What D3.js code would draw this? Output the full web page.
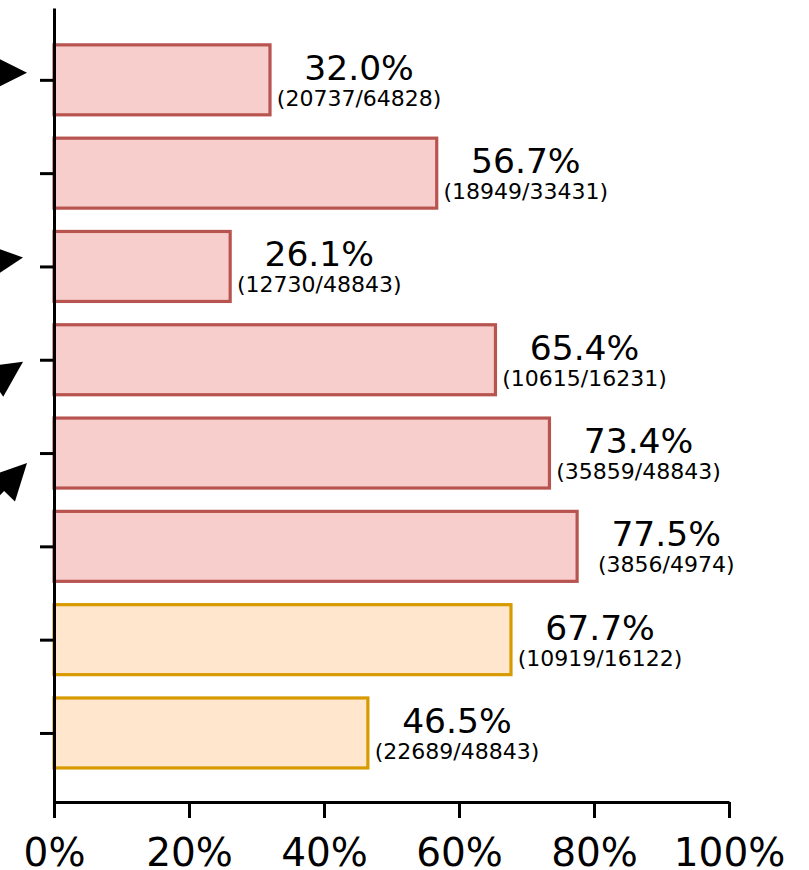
<!DOCTYPE html>
<html>
<head>
<meta charset="utf-8">
<script src="https://cdn.jsdelivr.net/npm/d3@7"></script>
<style>
  body { margin: 0; background: #fff; }
  text { font-family: "DejaVu Sans", sans-serif; }
</style>
</head>
<body>
<script>
var width = 809;
var height = 870;

// values, top bar first
var rates  = [32.0, 56.7, 26.1, 65.4, 73.4, 77.5, 67.7, 46.5];
var hits   = [20737, 18949, 12730, 10615, 35859, 3856, 10919, 22689];
var totals = [64828, 33431, 48843, 16231, 48843, 4974, 16122, 48843];
var groups = ["a", "a", "a", "a", "a", "a", "b", "b"];
var xTicks = [0, 20, 40, 60, 80, 100];

// arrow heads sticking in from the left edge (bar index, tip offset, angle)
var arrows = [
  { bar: 0, tipX: 27, dy: -7, angle: 0 },
  { bar: 2, tipX: 23, dy: -9, angle: -7 },
  { bar: 3, tipX: 23, dy: 2, angle: -34 },
  { bar: 4, tipX: 27, dy: 10, angle: -46 }
];

var strokeColor = { a: "#b85450", b: "#d79b00" };
var fillColor = { a: "#f8cecc", b: "#ffe6cc" };

var svg = d3.select("body").append("svg")
  .attr("width", width)
  .attr("height", height);

var x = d3.scaleLinear()
  .domain([0, 100])
  .range([54, 729]);

var n = rates.length;
var y = d3.scaleLinear()
  .domain([-0.74, n - 0.23])
  .range([802, 8]);

function yc(i) { return y(n - 1 - i); }
var barH = (y(0) - y(1)) * 0.75;

var data = rates.map(function(r, i) {
  return { rate: r, hit: hits[i], total: totals[i], group: groups[i], i: i };
});

svg.selectAll("rect.bar")
  .data(data)
  .enter().append("rect")
  .attr("class", "bar")
  .attr("x", x(0))
  .attr("y", function(d) { return yc(d.i) - barH / 2; })
  .attr("width", function(d) { return x(d.rate) - x(0); })
  .attr("height", barH)
  .attr("fill", function(d) { return fillColor[d.group]; })
  .attr("stroke", function(d) { return strokeColor[d.group]; })
  .attr("stroke-width", 3.2);

svg.selectAll("text.pct")
  .data(data)
  .enter().append("text")
  .attr("class", "pct")
  .attr("x", function(d) { return x(d.rate + 13.2); })
  .attr("y", function(d) { return yc(d.i); })
  .attr("text-anchor", "middle")
  .style("font-size", "34.5px")
  .text(function(d) { return d.rate.toFixed(1) + "%"; });

svg.selectAll("text.cnt")
  .data(data)
  .enter().append("text")
  .attr("class", "cnt")
  .attr("x", function(d) { return x(d.rate + 13.2); })
  .attr("y", function(d) { return yc(d.i) + 26; })
  .attr("text-anchor", "middle")
  .style("font-size", "22px")
  .text(function(d) { return "(" + d.hit + "/" + d.total + ")"; });

// x axis
var xAxis = svg.append("g")
  .attr("transform", "translate(0,802)")
  .call(d3.axisBottom(x)
    .tickValues(xTicks)
    .tickSize(16)
    .tickSizeOuter(0)
    .tickPadding(20)
    .tickFormat(function(d) { return d + "%"; }));

xAxis.select(".domain").attr("stroke", "#000").attr("stroke-width", 3);
xAxis.selectAll(".tick line").attr("stroke", "#000").attr("stroke-width", 3);
xAxis.selectAll(".tick text")
  .attr("fill", "#000")
  .style("font-family", "DejaVu Sans, sans-serif")
  .style("font-size", "39px");

// y spine and ticks
var yAxis = svg.append("g")
  .attr("transform", "translate(54,0)")
  .call(d3.axisLeft(y)
    .tickValues(d3.range(n))
    .tickSize(14)
    .tickSizeOuter(0)
    .tickFormat(""));

yAxis.select(".domain").attr("stroke", "#000").attr("stroke-width", 3);
yAxis.selectAll(".tick line").attr("stroke", "#000").attr("stroke-width", 3);

// arrow heads
var L = 36, W = 18;
var ag = svg.selectAll("g.arrow")
  .data(arrows)
  .enter().append("g")
  .attr("class", "arrow")
  .attr("transform", function(d) {
    return "translate(" + d.tipX + "," + (yc(d.bar) + d.dy) + ") rotate(" + d.angle + ")";
  });

ag.append("line")
  .attr("x1", -L + 2).attr("y1", 0)
  .attr("x2", -L - 80).attr("y2", 0)
  .attr("stroke", "#000")
  .attr("stroke-width", 6);

ag.append("path")
  .attr("d", "M0,0 L" + (-L) + "," + (-W) + " L" + (-L) + "," + W + " Z")
  .attr("fill", "#000");
</script>
</body>
</html>
